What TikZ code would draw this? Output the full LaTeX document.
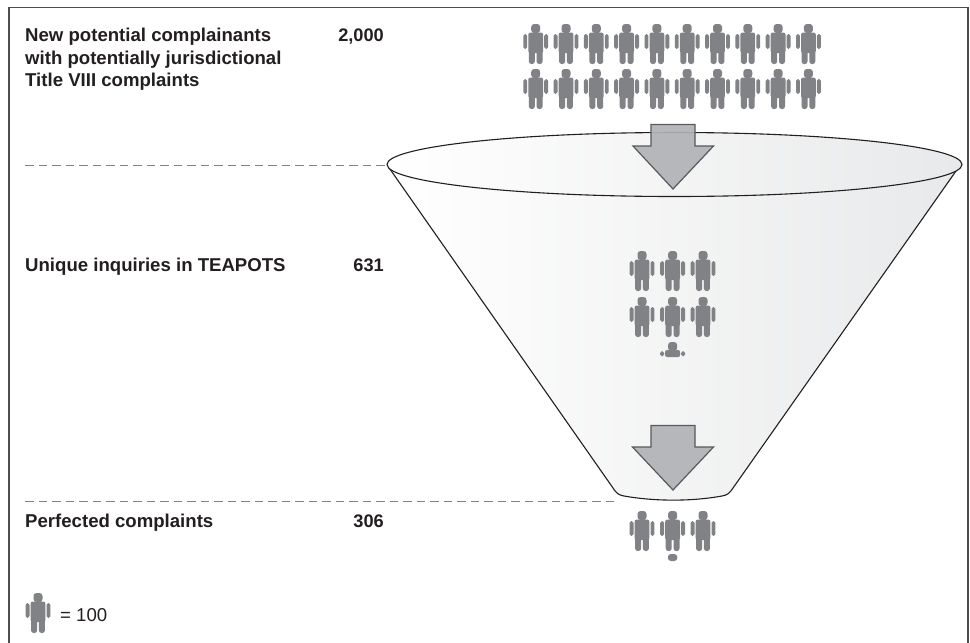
\documentclass[tikz,border=0pt]{standalone}
\usepackage{fontspec}
\setmainfont{Liberation Sans}
\definecolor{personc}{HTML}{808285}
\definecolor{arrowf}{HTML}{B1B2B6}
\definecolor{arrowd}{HTML}{58595B}
\definecolor{inkc}{HTML}{231F20}
\definecolor{framec}{HTML}{4D4D4F}
\definecolor{funnelr}{HTML}{E8E9EA}
\tikzset{
  label/.style={anchor=base west,font=\fontsize{18.6}{18.6}\selectfont\bfseries,text=inkc,inner sep=0pt},
  count/.style={anchor=base east,font=\fontsize{18.2}{18.2}\selectfont\bfseries,text=inkc,inner sep=0pt},
  levelline/.style={personc,line width=0.9pt,dash pattern=on 8.5pt off 5pt},
  funnelline/.style={inkc,line width=1.1pt},
  bigarrow/.style={fill=arrowf,fill opacity=0.92,draw=arrowd,line width=1.2pt,miter limit=10},
  person/.pic={
    \fill[personc,rounded corners=3pt] (-4.5,0) rectangle (4.5,9);
    \fill[personc] (-2.5,7) rectangle (2.5,10);
    \fill[personc,rounded corners=2.2pt] (-7.4,8.5) rectangle (7.4,29);
    \fill[personc,rounded corners=2.6pt] (-6.9,24) rectangle (-0.9,40);
    \fill[personc,rounded corners=2.6pt] (0.9,24) rectangle (6.9,40);
    \fill[personc,rounded corners=1.8pt] (-12.4,10) rectangle (-8.5,25);
    \fill[personc,rounded corners=1.8pt] (8.5,10) rectangle (12.4,25);
  },
  partperson/.pic={
    \fill[personc,rounded corners=3pt] (-4.5,0) rectangle (4.5,9);
    \fill[personc,rounded corners=2pt] (-7.5,8) rectangle (7.5,15);
    \fill[personc,rounded corners=1.8pt] (-12.4,9) rectangle (-8.6,14.5);
    \fill[personc,rounded corners=1.8pt] (8.6,9) rectangle (12.4,14.5);
  },
  headonly/.pic={
    \fill[personc,rounded corners=3pt] (-4.7,0) rectangle (4.7,7);
  }
}
\begin{document}
\begin{tikzpicture}[x=1pt,y=-1pt]
\useasboundingbox (0,0) rectangle (970,643);
\fill[white] (0,0) rectangle (970,643);
% frame
\draw[framec,line width=1.3pt] (9,643) -- (9,7.5) -- (968,7.5) -- (968,643);
% level lines
\coordinate (lineA) at (25,165);
\coordinate (lineAend) at (385,165);
\coordinate (lineB) at (25,501);
\coordinate (lineBend) at (618,501);
\draw[levelline] (lineA) -- (lineAend);
\draw[levelline] (lineB) -- (lineBend);
% funnel
\shade[left color=white,right color=funnelr]
  (388,167) -- (613,488) .. controls (617,494) and (619,495) .. (624,496)
  .. controls (655,501.5) and (692,501.5) .. (722,496)
  .. controls (727,495) and (729,494) .. (733,488) -- (961,165) -- cycle;
\draw[funnelline] (388.5,167) -- (613,488) .. controls (617,494) and (619,495) .. (624,496)
  .. controls (655,501.5) and (692,501.5) .. (722,496)
  .. controls (727,495) and (729,494) .. (733,488) -- (956,171);
\shade[left color=white,right color=funnelr]
  (674.5,164.5) ellipse [x radius=287.5,y radius=32];
\draw[funnelline] (674.5,164.5) ellipse [x radius=287.5,y radius=32];
% arrows
\draw[bigarrow] (651,124.5) -- (695,124.5) -- (695,146) -- (713.5,146) -- (673,189) -- (633,146) -- (651,146) -- cycle;
\draw[bigarrow] (651,425.5) -- (695,425.5) -- (695,447) -- (713.5,447) -- (673,490) -- (632.5,447) -- (651,447) -- cycle;
% top crowd
\foreach \c in {0,...,9}{
  \pic at ({535.7+30.3*\c},24) {person};
  \pic at ({535.7+30.3*\c},69) {person};
}
% middle crowd
\foreach \cx in {642,672.6,703}{
  \pic at (\cx,251) {person};
  \pic at (\cx,297) {person};
  \pic at (\cx,511) {person};
}
\pic at (672.6,342) {partperson};
\pic at (672.6,554) {headonly};
% legend
\pic at (38,593) {person};
% texts
\node[label] (t1a) at (25,41.5) {New potential complainants};
\node[label] (t1b) at (25,64) {with potentially jurisdictional};
\node[label] (t1c) at (25,86.5) {Title VIII complaints};
\node[count] (n1) at (384,41.5) {2,000};
\node[label] (t2) at (25,271) {Unique inquiries in TEAPOTS};
\node[count] (n2) at (384,271) {631};
\node[label] (t3) at (25,527) {Perfected complaints};
\node[count] (n3) at (384,527) {306};
\node[anchor=base west,inner sep=0pt,font=\fontsize{18.6}{18.6}\selectfont,text=inkc] (leg) at (60,621) {= 100};
\end{tikzpicture}
\end{document}
